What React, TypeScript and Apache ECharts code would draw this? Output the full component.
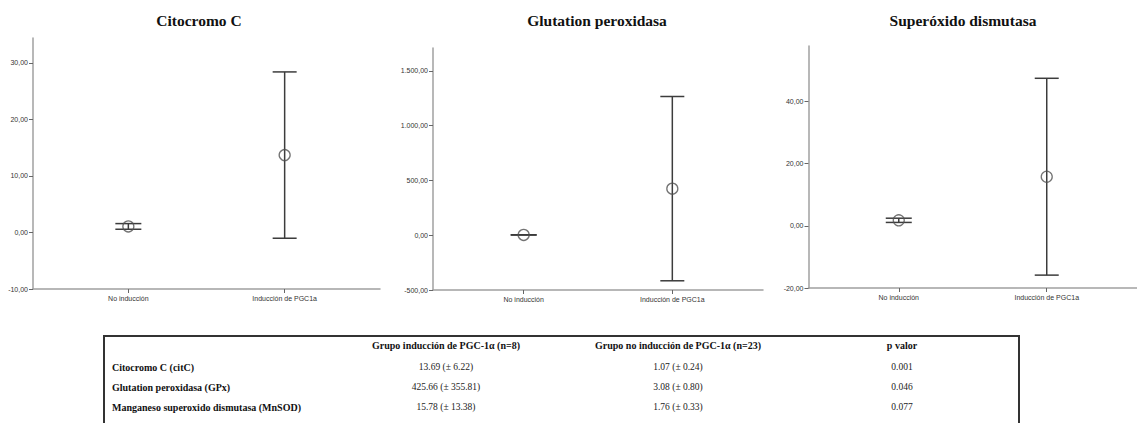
import React, { useEffect, useRef } from "react";
import * as echarts from "echarts";

// Groups shown on every panel's x axis
const groups = ["No inducción", "Inducción de PGC1a"];

// Citocromo C: mean and 95% CI bounds per group
const citMean = [1.07, 13.69];
const citLow = [0.57, -1.02];
const citHigh = [1.57, 28.4];
const citTicks = [-10, 0, 10, 20, 30];

// Glutation peroxidasa
const gpxMean = [3.08, 425.66];
const gpxLow = [1.42, -415.8];
const gpxHigh = [4.74, 1267.1];
const gpxTicks = [-500, 0, 500, 1000, 1500];

// Superóxido dismutasa
const sodMean = [1.76, 15.78];
const sodLow = [1.08, -15.86];
const sodHigh = [2.44, 47.42];
const sodTicks = [-20, 0, 20, 40];

const panelTitles = ["Citocromo C", "Glutation peroxidasa", "Superóxido dismutasa"];

// Summary table
const tableHeader = ["Grupo inducción de PGC-1α (n=8)", "Grupo no inducción de PGC-1α (n=23)", "p valor"];
const tableRowLabels = ["Citocromo C (citC)", "Glutation peroxidasa (GPx)", "Manganeso superoxido dismutasa (MnSOD)"];
const tableInduced = ["13.69 (± 6.22)", "425.66 (± 355.81)", "15.78 (± 13.38)"];
const tableNotInduced = ["1.07 (± 0.24)", "3.08 (± 0.80)", "1.76 (± 0.33)"];
const tablePValues = ["0.001", "0.046", "0.077"];

function fmtEs(v: number): string {
  const neg = v < 0;
  const s = Math.abs(v).toFixed(2);
  const [i, d] = s.split(".");
  const ii = i.replace(/\B(?=(\d{3})+(?!\d))/g, ".");
  return (neg ? "-" : "") + ii + "," + d;
}

const AXIS_COLOR = "#a0a0a0";
const BAR_COLOR = "#3c3c3c";
const LABEL_COLOR = "#333333";
const SANS = '"Liberation Sans", Arial, sans-serif';
const SERIF = '"Liberation Serif", "Times New Roman", serif';

export default function App() {
  const ref = useRef<HTMLDivElement>(null);

  useEffect(() => {
    if (!ref.current) return;
    const chart = echarts.init(ref.current, undefined, { renderer: "svg" });

    const grids = [
      { left: 33, top: 38, width: 347, height: 251 },
      { left: 433, top: 48, width: 330, height: 242 },
      { left: 808.5, top: 46, width: 337, height: 242 },
    ];
    const yRanges = [
      { min: -10, max: 34.4, ticks: citTicks },
      { min: -500, max: 1710, ticks: gpxTicks },
      { min: -20, max: 57.8, ticks: sodTicks },
    ];
    const panels = [
      { mean: citMean, low: citLow, high: citHigh },
      { mean: gpxMean, low: gpxLow, high: gpxHigh },
      { mean: sodMean, low: sodLow, high: sodHigh },
    ];
    const titleCenters = [199, 597, 963];

    const xAxis = grids.map((_, i) => ({
      type: "value",
      gridIndex: i,
      min: -0.61,
      max: 1.61,
      splitLine: { show: false },
      axisLine: { onZero: false, lineStyle: { color: AXIS_COLOR, width: 1.5 } },
      axisTick: { show: true, customValues: [0, 1], length: 4, lineStyle: { color: "#666", width: 1 } },
      axisLabel: {
        customValues: [0, 1],
        formatter: (v: number) => groups[Math.round(v)] ?? "",
        fontFamily: SANS,
        fontSize: 7,
        color: LABEL_COLOR,
        margin: 6,
      },
    }));

    const yAxis = grids.map((_, i) => ({
      type: "value",
      gridIndex: i,
      min: yRanges[i].min,
      max: yRanges[i].max,
      splitLine: { show: false },
      axisLine: { show: true, onZero: false, lineStyle: { color: AXIS_COLOR, width: 1.5 } },
      axisTick: { show: true, customValues: yRanges[i].ticks, length: 4, lineStyle: { color: "#666", width: 1 } },
      axisLabel: {
        customValues: yRanges[i].ticks,
        formatter: (v: number) => fmtEs(v),
        fontFamily: SANS,
        fontSize: 7,
        color: LABEL_COLOR,
        margin: 5,
      },
    }));

    const series: any[] = [];
    panels.forEach((p, i) => {
      series.push({
        type: "custom",
        xAxisIndex: i,
        yAxisIndex: i,
        clip: false,
        encode: { x: 0, y: [1, 2] },
        data: groups.map((_, g) => [g, p.low[g], p.high[g]]),
        renderItem: (params: any, api: any) => {
          const x = api.value(0);
          const top = api.coord([x, api.value(2)]);
          const bot = api.coord([x, api.value(1)]);
          const hw = params.dataIndex === 0 ? 13 : 12;
          const style = { stroke: BAR_COLOR, lineWidth: 1.5 };
          return {
            type: "group",
            children: [
              { type: "line", shape: { x1: top[0], y1: top[1], x2: bot[0], y2: bot[1] }, style },
              { type: "line", shape: { x1: top[0] - hw, y1: top[1], x2: top[0] + hw, y2: top[1] }, style },
              { type: "line", shape: { x1: bot[0] - hw, y1: bot[1], x2: bot[0] + hw, y2: bot[1] }, style },
            ],
          };
        },
      });
      series.push({
        type: "scatter",
        xAxisIndex: i,
        yAxisIndex: i,
        symbol: "circle",
        symbolSize: 11,
        z: 3,
        itemStyle: { color: "rgba(255,255,255,0)", borderColor: "#505050", borderWidth: 1.3 },
        data: groups.map((_, g) => [g, p.mean[g]]),
      });
    });

    const graphics: any[] = [];
    panelTitles.forEach((t, i) => {
      graphics.push({
        type: "text",
        x: titleCenters[i],
        y: 20,
        style: {
          text: t,
          font: `bold 15.5px ${SERIF}`,
          fill: "#111",
          textAlign: "center",
          textVerticalAlign: "middle",
        },
      });
    });

    // Table frame
    graphics.push({
      type: "rect",
      shape: { x: 104, y: 336, width: 915, height: 110 },
      style: { fill: "none", stroke: "#333", lineWidth: 2 },
    });

    const colCenters = [446, 678, 902];
    const headerY = 345;
    const rowYs = [367, 387, 407];
    tableHeader.forEach((h, c) => {
      graphics.push({
        type: "text",
        x: colCenters[c],
        y: headerY,
        style: { text: h, font: `bold 10px ${SERIF}`, fill: "#111", textAlign: "center", textVerticalAlign: "middle" },
      });
    });
    tableRowLabels.forEach((lbl, r) => {
      graphics.push({
        type: "text",
        x: 112,
        y: rowYs[r],
        style: { text: lbl, font: `bold 10px ${SERIF}`, fill: "#111", textAlign: "left", textVerticalAlign: "middle" },
      });
      const cells = [tableInduced[r], tableNotInduced[r], tablePValues[r]];
      cells.forEach((cell, c) => {
        graphics.push({
          type: "text",
          x: colCenters[c],
          y: rowYs[r],
          style: { text: cell, font: `9.5px ${SERIF}`, fill: "#222", textAlign: "center", textVerticalAlign: "middle" },
        });
      });
    });

    chart.setOption({
      animation: false,
      backgroundColor: "#ffffff",
      grid: grids,
      xAxis,
      yAxis,
      series,
      graphic: graphics,
    });

    return () => chart.dispose();
  }, []);

  return (
    <div
      ref={ref}
      style={{ position: "fixed", left: 0, top: 0, width: 1137, height: 423, background: "#fff" }}
    />
  );
}
